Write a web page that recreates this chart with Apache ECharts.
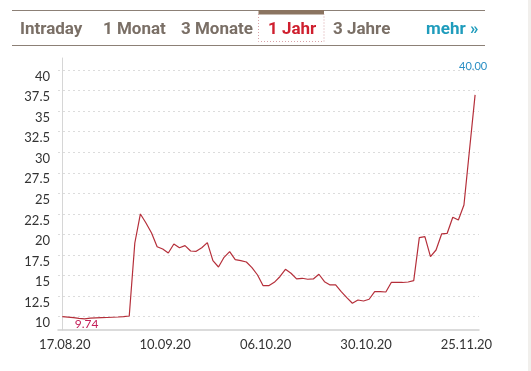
<!DOCTYPE html>
<html>
<head>
<meta charset="utf-8">
<script src="https://cdn.jsdelivr.net/npm/echarts@6/dist/echarts.min.js"></script>
<style>
html,body{margin:0;padding:0;background:#fff;}
#chart{width:531px;height:371px;}
</style>
</head>
<body>
<div id="chart"></div>
<script>
// Data (trading-day index positions; tick labels at given indices)
var tickLabels = ['17.08.20', '10.09.20', '06.10.20', '30.10.20', '25.11.20'];
var tickIndex = [0, 18, 36, 54, 72];
var yTicks = [10, 12.5, 15, 17.5, 20, 22.5, 25, 27.5, 30, 32.5, 35, 37.5, 40];
var values = [
  10.00, 9.95, 9.88, 9.80, 9.74, 9.82, 9.85, 9.88, 9.90, 9.93, 9.96, 10.00, 10.08,
  18.96, 22.49, 21.40, 20.18, 18.51, 18.23, 17.75, 18.84, 18.39, 18.64, 17.99, 17.95,
  18.39, 19.00, 16.81, 16.04, 17.22, 17.91, 16.93, 16.81, 16.65, 15.96, 15.07, 13.77,
  13.77, 14.18, 14.86, 15.76, 15.28, 14.59, 14.67, 14.55, 14.59, 15.16, 14.26, 13.86,
  13.86, 13.04, 12.31, 11.63, 12.03, 11.91, 12.12, 13.04, 13.04, 13.00, 14.18, 14.18,
  14.16, 14.22, 14.38, 19.61, 19.73, 17.30, 18.11, 20.06, 20.14, 22.09, 21.76, 23.59,
  30.30, 36.97
];
var minQuote = 9.74, minIndex = 4;
var maxQuote = 40.00;
var tabs = ['Intraday', '1 Monat', '3 Monate', '1 Jahr', '3 Jahre'];
var moreLabel = 'mehr \u00bb';

var chart = echarts.init(document.getElementById('chart'), null, {renderer: 'canvas'});
var numFont = '"Liberation Sans Narrow", Lato, sans-serif';
var tabFont = 'Roboto, Lato, sans-serif';
var tabX = [20, 103, 181, 268, 333];
var graphics = [
  {type: 'line', shape: {x1: 12, y1: 10.5, x2: 485, y2: 10.5}, style: {stroke: '#8c8076', lineWidth: 1}},
  {type: 'line', shape: {x1: 12, y1: 45.5, x2: 485, y2: 45.5}, style: {stroke: '#8c8076', lineWidth: 1}},
  {type: 'rect', shape: {x: 258.5, y: 10, width: 65.5, height: 4.5}, style: {fill: '#8b7460'}},
  {type: 'polyline', shape: {points: [[258.5, 14], [258.5, 41.5], [324, 41.5], [324, 14]]},
   style: {stroke: '#d8a2a6', lineWidth: 1, lineDash: [1, 2], fill: null}},
  {type: 'rect', shape: {x: 528, y: 0, width: 3, height: 371}, style: {fill: '#f1efec'}}
];
tabs.forEach(function (t, i) {
  graphics.push({type: 'text', x: tabX[i], y: 30, style: {
    text: t, fill: i === 3 ? '#cf1f2e' : '#7a6f66', fontFamily: tabFont, fontWeight: 'bold', fontSize: 17,
    verticalAlign: 'middle', align: 'left'}});
});
graphics.push({type: 'text', x: 426, y: 30, style: {
  text: moreLabel, fill: '#1f9cbc', fontFamily: tabFont, fontWeight: 'bold', fontSize: 17,
  verticalAlign: 'middle', align: 'left'}});

var yGrid = yTicks.map(function (v) { return {yAxis: v}; });

chart.setOption({
  animation: false,
  backgroundColor: '#ffffff',
  graphic: graphics,
  grid: {left: 58, right: 52, top: 58, bottom: 41},
  xAxis: {
    type: 'value', min: -0.77, max: 74.7,
    axisLine: {show: true, lineStyle: {color: '#cfcfcf', width: 1.5}},
    axisTick: {show: false},
    splitLine: {show: false},
    axisLabel: {
      customValues: tickIndex,
      formatter: function (v) { var k = tickIndex.indexOf(Math.round(v)); return k >= 0 ? tickLabels[k] : ''; },
      color: '#333', fontFamily: numFont, fontSize: 13, margin: 8, padding: [0, 0, 0, 5]
    }
  },
  yAxis: {
    type: 'value', min: 8.38, max: 41.46,
    axisLine: {show: true, lineStyle: {color: '#d6d6d6', width: 1}},
    axisTick: {show: false},
    splitLine: {show: false},
    axisLabel: {
      customValues: yTicks,
      color: '#333', fontFamily: numFont, fontSize: 13, margin: 8, verticalAlign: 'top'
    }
  },
  series: [{
    type: 'line',
    data: values.map(function (v, i) { return [i, v]; }),
    symbol: 'none',
    lineStyle: {color: '#b52f3a', width: 1.2},
    markLine: {
      silent: true, symbol: 'none', label: {show: false},
      lineStyle: {color: '#dcdcdc', type: [2, 3], width: 1},
      data: yGrid, z: 1
    },
    markPoint: {
      symbol: 'circle', symbolSize: 0, silent: true,
      data: [
        {coord: [minIndex, minQuote], value: minQuote,
         label: {show: true, formatter: minQuote.toFixed(2), color: '#c4205a', fontSize: 12,
                 fontFamily: numFont, offset: [2, 5]}},
        {coord: [values.length - 1, maxQuote], value: maxQuote,
         label: {show: true, formatter: maxQuote.toFixed(2), color: '#2a8fc4', fontSize: 11,
                 fontFamily: numFont, offset: [-2, -4]}}
      ]
    }
  }]
});
</script>
</body>
</html>
